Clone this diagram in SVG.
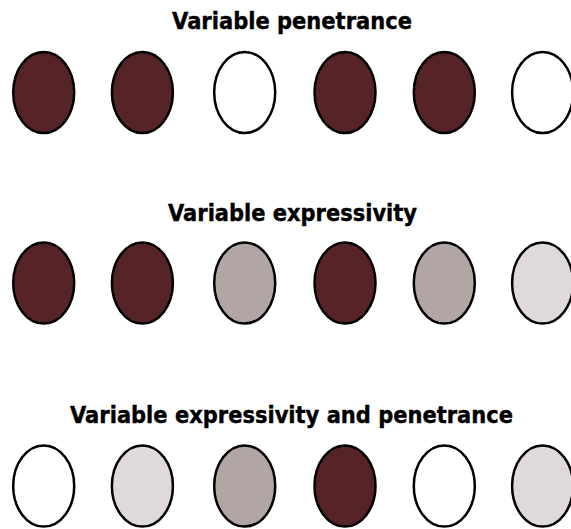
<svg xmlns="http://www.w3.org/2000/svg" width="571" height="529" viewBox="0 0 571 529">
<style>
.t{font-family:"DejaVu Sans",Verdana,sans-serif;font-weight:bold;font-size:22.5px;fill:#000;stroke:#000;stroke-width:0.4;text-anchor:middle}
ellipse{stroke:#000;stroke-width:2.5}
.d{fill:#562426}.m{fill:#b2a6a5}.l{fill:#e0d9d9}.w{fill:#fff}
</style>
<rect width="571" height="529" fill="#fff"/>
<g id="row1">
<text class="t" x="292" y="28.5" textLength="240" lengthAdjust="spacingAndGlyphs">Variable penetrance</text>
<ellipse class="d" cx="43.7" cy="92.5" rx="30.5" ry="40.5"/>
<ellipse class="d" cx="142.4" cy="92.5" rx="30.5" ry="40.5"/>
<ellipse class="w" cx="244.7" cy="92.5" rx="30.5" ry="40.5"/>
<ellipse class="d" cx="345" cy="92.5" rx="30.5" ry="40.5"/>
<ellipse class="d" cx="444.3" cy="92.5" rx="30.5" ry="40.5"/>
<ellipse class="w" cx="542.6" cy="92.5" rx="30.5" ry="40.5"/>
</g>
<g id="row2">
<text class="t" x="292.5" y="220.8" textLength="249" lengthAdjust="spacingAndGlyphs">Variable expressivity</text>
<ellipse class="d" cx="43.7" cy="283" rx="30.5" ry="40.5"/>
<ellipse class="d" cx="142.4" cy="283" rx="30.5" ry="40.5"/>
<ellipse class="m" cx="244.7" cy="283" rx="30.5" ry="40.5"/>
<ellipse class="d" cx="345" cy="283" rx="30.5" ry="40.5"/>
<ellipse class="m" cx="444.3" cy="283" rx="30.5" ry="40.5"/>
<ellipse class="l" cx="542.6" cy="283" rx="30.5" ry="40.5"/>
</g>
<g id="row3">
<text class="t" x="291.5" y="423.3" textLength="443" lengthAdjust="spacingAndGlyphs">Variable expressivity and penetrance</text>
<ellipse class="w" cx="43.7" cy="486" rx="30.5" ry="40.5"/>
<ellipse class="l" cx="142.4" cy="486" rx="30.5" ry="40.5"/>
<ellipse class="m" cx="244.7" cy="486" rx="30.5" ry="40.5"/>
<ellipse class="d" cx="345" cy="486" rx="30.5" ry="40.5"/>
<ellipse class="w" cx="444.3" cy="486" rx="30.5" ry="40.5"/>
<ellipse class="l" cx="542.6" cy="486" rx="30.5" ry="40.5"/>
</g>
<g id="connectors"/>
</svg>
